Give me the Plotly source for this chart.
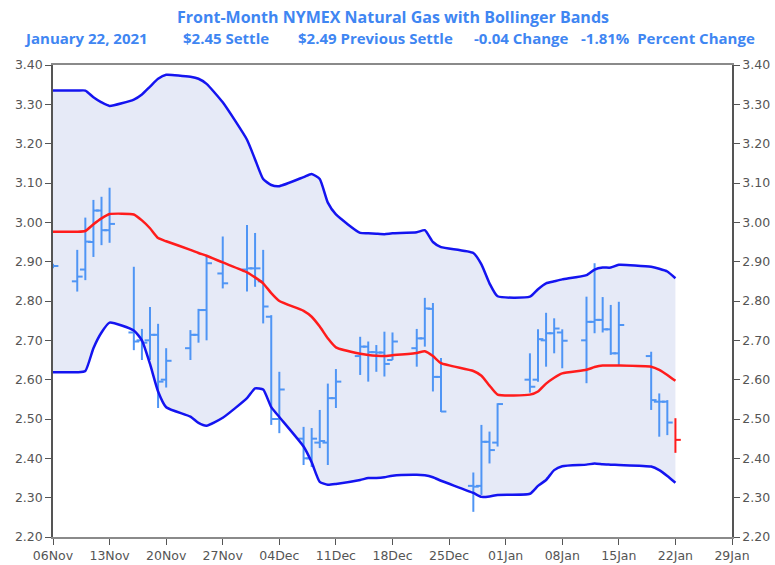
import plotly.graph_objects as go
import pandas as pd

dates = ["2020-11-06","2020-11-09","2020-11-10","2020-11-11","2020-11-12","2020-11-13",
         "2020-11-16","2020-11-17","2020-11-18","2020-11-19","2020-11-20",
         "2020-11-23","2020-11-24","2020-11-25","2020-11-27",
         "2020-11-30","2020-12-01","2020-12-02","2020-12-03","2020-12-04",
         "2020-12-07","2020-12-08","2020-12-09","2020-12-10","2020-12-11",
         "2020-12-14","2020-12-15","2020-12-16","2020-12-17","2020-12-18",
         "2020-12-21","2020-12-22","2020-12-23","2020-12-24",
         "2020-12-28","2020-12-29","2020-12-30","2020-12-31",
         "2021-01-04","2021-01-05","2021-01-06","2021-01-07","2021-01-08",
         "2021-01-11","2021-01-12","2021-01-13","2021-01-14","2021-01-15",
         "2021-01-19","2021-01-20","2021-01-21","2021-01-22"]

open_ = [2.889,2.85,2.88,2.95,3.03,2.98,
         2.72,2.70,2.70,2.714,2.60,
         2.68,2.714,2.777,2.87,
         2.88,2.883,2.85,2.76,2.50,
         2.45,2.40,2.44,2.44,2.553,
         2.66,2.684,2.67,2.669,2.65,
         2.68,2.705,2.78,2.607,
         2.33,2.33,2.442,2.44,
         2.60,2.60,2.70,2.718,2.72,
         2.70,2.747,2.752,2.728,2.667,
         2.66,2.544,2.544,None]
high = [2.895,2.93,3.012,3.057,3.065,3.088,
        2.887,2.729,2.785,2.742,2.68,
        2.726,2.78,2.917,2.964,
        2.993,2.973,2.93,2.764,2.62,
        2.48,2.477,2.523,2.59,2.627,
        2.709,2.697,2.688,2.722,2.72,
        2.729,2.808,2.795,2.655,
        2.364,2.485,2.468,2.54,
        2.667,2.728,2.77,2.756,2.728,
        2.811,2.896,2.81,2.79,2.798,
        2.671,2.565,2.548,2.502]
low = [2.883,2.824,2.853,2.912,2.942,2.948,
       2.675,2.65,2.65,2.528,2.58,
       2.65,2.694,2.70,2.832,
       2.824,2.836,2.743,2.485,2.464,
       2.383,2.378,2.426,2.383,2.528,
       2.612,2.595,2.62,2.608,2.65,
       2.633,2.684,2.57,2.518,
       2.264,2.307,2.387,2.43,
       2.567,2.595,2.633,2.667,2.629,
       2.591,2.718,2.72,2.663,2.637,
       2.523,2.455,2.459,2.414]
close = [2.889,2.862,2.951,3.03,2.98,2.996,
         2.697,2.694,2.714,2.595,2.648,
         2.714,2.777,2.896,2.845,
         2.883,2.883,2.786,2.50,2.575,
         2.40,2.45,2.444,2.553,2.595,
         2.684,2.67,2.669,2.64,2.697,
         2.705,2.781,2.607,2.519,
         2.328,2.442,2.421,2.538,
         2.582,2.703,2.718,2.73,2.699,
         2.747,2.752,2.728,2.667,2.739,
         2.548,2.544,2.491,2.447]

upper_band = [3.335,3.335,3.335,3.318,3.305,3.296,
              3.312,3.325,3.345,3.365,3.375,
              3.37,3.365,3.352,3.305,
              3.21,3.16,3.11,3.095,3.092,
              3.115,3.123,3.11,3.05,3.02,
              2.973,2.972,2.971,2.97,2.972,
              2.975,2.98,2.95,2.937,
              2.922,2.893,2.845,2.812,
              2.811,2.83,2.845,2.85,2.855,
              2.866,2.88,2.885,2.885,2.892,
              2.887,2.882,2.875,2.858]
middle_band = [2.976,2.976,2.978,2.995,3.01,3.021,
               3.02,3.005,2.985,2.96,2.952,
               2.93,2.922,2.915,2.898,
               2.873,2.86,2.845,2.82,2.80,
               2.775,2.76,2.735,2.705,2.682,
               2.666,2.663,2.661,2.66,2.662,
               2.668,2.672,2.66,2.642,
               2.622,2.61,2.585,2.562,
               2.562,2.57,2.59,2.605,2.616,
               2.625,2.632,2.636,2.636,2.636,
               2.633,2.625,2.612,2.597]
lower_band = [2.619,2.619,2.622,2.68,2.72,2.745,
              2.725,2.70,2.64,2.57,2.53,
              2.506,2.49,2.483,2.503,
              2.553,2.578,2.575,2.53,2.505,
              2.43,2.39,2.34,2.333,2.335,
              2.345,2.35,2.35,2.352,2.356,
              2.358,2.357,2.352,2.343,
              2.312,2.302,2.303,2.307,
              2.31,2.33,2.345,2.37,2.38,
              2.384,2.387,2.385,2.384,2.383,
              2.379,2.37,2.355,2.338]

x_ticks = ["2020-11-06","2020-11-13","2020-11-20","2020-11-27","2020-12-04","2020-12-11",
           "2020-12-18","2020-12-25","2021-01-01","2021-01-08","2021-01-15","2021-01-22",
           "2021-01-29"]
y_ticks = [2.2,2.3,2.4,2.5,2.6,2.7,2.8,2.9,3.0,3.1,3.2,3.3,3.4]

title_line1 = "Front-Month NYMEX Natural Gas with Bollinger Bands"
title_parts = ["January 22, 2021", "$2.45 Settle", "$2.49 Previous Settle",
               "-0.04 Change", "-1.81%  Percent Change"]

BAR_BLUE = "#4f95f5"
BAND_BLUE = "#1414f0"
MID_RED = "#ff1c1c"
FILL = "#e6eaf7"
TITLE_C = "#3f86f2"
AX_C = "#555555"


def ohlc_segments(idx):
    """Build OHLC bar polylines (vertical range + open/close ticks) for given indices."""
    off = pd.Timedelta(hours=16)
    xs, ys = [], []
    for i in idx:
        d = pd.Timestamp(dates[i])
        xs += [d, d, None]
        ys += [low[i], high[i], None]
        if open_[i] is not None:
            xs += [d - off, d, None]
            ys += [open_[i], open_[i], None]
        if close[i] is not None:
            xs += [d, d + off, None]
            ys += [close[i], close[i], None]
    return xs, ys


fig = go.Figure()
fig.add_trace(go.Scatter(x=dates, y=upper_band, mode="lines",
                         line=dict(width=0, color=FILL, shape="spline", smoothing=0.5),
                         hoverinfo="skip", showlegend=False))
fig.add_trace(go.Scatter(x=dates, y=lower_band, mode="lines",
                         line=dict(width=0, color=FILL, shape="spline", smoothing=0.5),
                         fill="tonexty", fillcolor=FILL, hoverinfo="skip", showlegend=False))
n = len(dates)
bx, by = ohlc_segments(range(n - 1))
fig.add_trace(go.Scatter(x=bx, y=by, mode="lines", line=dict(width=2, color=BAR_BLUE),
                         connectgaps=False, hoverinfo="skip", showlegend=False))
rx, ry = ohlc_segments([n - 1])
fig.add_trace(go.Scatter(x=rx, y=ry, mode="lines", line=dict(width=2, color=MID_RED),
                         connectgaps=False, hoverinfo="skip", showlegend=False))
fig.add_trace(go.Scatter(x=dates, y=middle_band, mode="lines",
                         line=dict(width=2.5, color=MID_RED, shape="spline", smoothing=0.5),
                         hoverinfo="skip", showlegend=False))
fig.add_trace(go.Scatter(x=dates, y=upper_band, mode="lines",
                         line=dict(width=2.5, color=BAND_BLUE, shape="spline", smoothing=0.5),
                         hoverinfo="skip", showlegend=False))
fig.add_trace(go.Scatter(x=dates, y=lower_band, mode="lines",
                         line=dict(width=2.5, color=BAND_BLUE, shape="spline", smoothing=0.5),
                         hoverinfo="skip", showlegend=False))
# invisible trace to activate right axis
fig.add_trace(go.Scatter(x=dates, y=lower_band, mode="lines", line=dict(width=0), opacity=0,
                         yaxis="y2", hoverinfo="skip", showlegend=False))

tick_font = dict(family="DejaVu Sans", size=12.5, color=AX_C)
yax = dict(range=[2.2, 3.4], tickvals=y_ticks, tickformat=".2f", ticks="outside", ticklen=6,
           tickcolor=AX_C, tickwidth=1, showline=True, linecolor=AX_C, linewidth=1.5,
           showgrid=False, zeroline=False, tickfont=tick_font, automargin=False)

fig.update_layout(
    width=775, height=565,
    margin=dict(l=53, r=43, t=65, b=28, autoexpand=False),
    paper_bgcolor="white", plot_bgcolor="white",
    xaxis=dict(type="date", range=["2020-11-06", "2021-01-29"], tickvals=x_ticks,
               tickformat="%d%b", ticks="outside", ticklen=6, tickcolor=AX_C,
               showline=True, linecolor="#8a8a8a", linewidth=2, mirror=True,
               showgrid=False, zeroline=False, tickfont=tick_font, automargin=False),
    yaxis=yax,
    yaxis2=dict(yax, overlaying="y", side="right"),
    showlegend=False,
)

tf1 = dict(family="Open Sans", size=16, color=TITLE_C, weight="bold")
tf2 = dict(family="Open Sans", size=15, color=TITLE_C, weight="bold")
fig.add_annotation(text=title_line1, xref="paper", yref="paper", x=0.5, y=1.102,
                   xanchor="center", yanchor="middle", showarrow=False, font=tf1)
part_x = [-0.045, 0.188, 0.358, 0.617, 0.774]
for txt, px in zip(title_parts, part_x):
    fig.add_annotation(text=txt, xref="paper", yref="paper", x=px, y=1.057,
                       xanchor="left", yanchor="middle", showarrow=False, font=tf2)

fig.write_html("out.html", config={"displayModeBar": False},
               post_script="document.body.style.margin='0';")
